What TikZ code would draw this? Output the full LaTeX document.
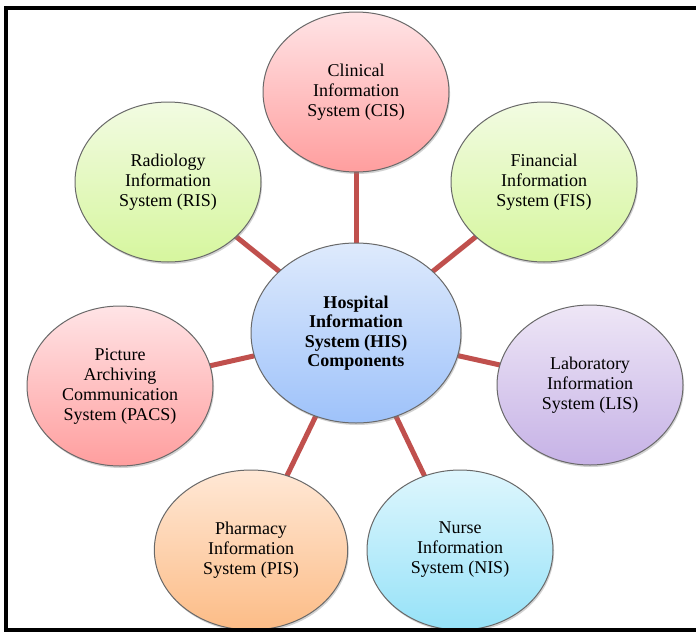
\documentclass[tikz,border=0pt]{standalone}
\usepackage{fontspec}
\setmainfont{Liberation Serif}
\usepackage{tikz}
\usetikzlibrary{shapes.geometric,shadows,backgrounds}

\definecolor{redtop}{RGB}{255,228,230}
\definecolor{redbot}{RGB}{255,158,158}
\definecolor{greentop}{RGB}{242,251,226}
\definecolor{greenbot}{RGB}{214,246,158}
\definecolor{bluetop}{RGB}{222,234,252}
\definecolor{bluebot}{RGB}{158,194,250}
\definecolor{violettop}{RGB}{238,230,246}
\definecolor{violetbot}{RGB}{198,178,230}
\definecolor{cyantop}{RGB}{222,246,253}
\definecolor{cyanbot}{RGB}{150,226,248}
\definecolor{orangetop}{RGB}{255,232,214}
\definecolor{orangebot}{RGB}{252,188,134}
\definecolor{spokecol}{RGB}{192,80,77}
\definecolor{rimcol}{RGB}{105,105,105}

\tikzset{
	sysnode/.style={ellipse, draw=rimcol, line width=0.75pt, inner sep=0pt,
		minimum width=139.5pt, minimum height=120pt, align=center,
		font=\fontsize{13.5pt}{15pt}\selectfont,
		drop shadow={shadow xshift=0.8pt, shadow yshift=-1.5pt, opacity=0.35}},
	spoke/.style={draw=spokecol, line width=3.75pt}
}

\begin{document}
\begin{tikzpicture}[x=0.75pt, y=-0.75pt]
			%%%%% START %%%%%
			\useasboundingbox (0, 0) rectangle (696, 632);
			
			\node[sysnode, minimum width=157.5pt, minimum height=135pt, top color=bluetop, bottom color=bluebot,
				font=\bfseries\fontsize{13.5pt}{14.5pt}\selectfont] (his) at (356, 333)
				{Hospital\\Information\\System (HIS)\\Components};
			
			\node[sysnode, top color=redtop, bottom color=redbot] (cis) at (356, 92)
				{Clinical\\Information\\System (CIS)};
			\node[sysnode, top color=greentop, bottom color=greenbot] (ris) at (168, 182)
				{Radiology\\Information\\System (RIS)};
			\node[sysnode, top color=greentop, bottom color=greenbot] (fis) at (544, 182)
				{Financial\\Information\\System (FIS)};
			\node[sysnode, top color=redtop, bottom color=redbot] (pacs) at (120, 386)
				{Picture\\Archiving\\Communication\\System (PACS)};
			\node[sysnode, top color=violettop, bottom color=violetbot] (lis) at (590, 385)
				{Laboratory\\Information\\System (LIS)};
			\node[sysnode, minimum width=145pt, top color=orangetop, bottom color=orangebot] (pis) at (251, 550)
				{Pharmacy\\Information\\System (PIS)};
			\node[sysnode, top color=cyantop, bottom color=cyanbot] (nis) at (460, 550)
				{Nurse\\Information\\System (NIS)};
			
			\begin{scope}[on background layer]
				\fill[white] (0, 0) rectangle (696, 632);
				\foreach \sys in {cis, ris, fis, pacs, lis, pis, nis}
					\draw[spoke] (his.center) -- (\sys.center);
			\end{scope}
			
			\draw[line width=3pt] (722, 7.5) -- (6, 7.5) -- (6, 630) -- (722, 630);
			%%%%% END %%%%%
\end{tikzpicture}
\end{document}
